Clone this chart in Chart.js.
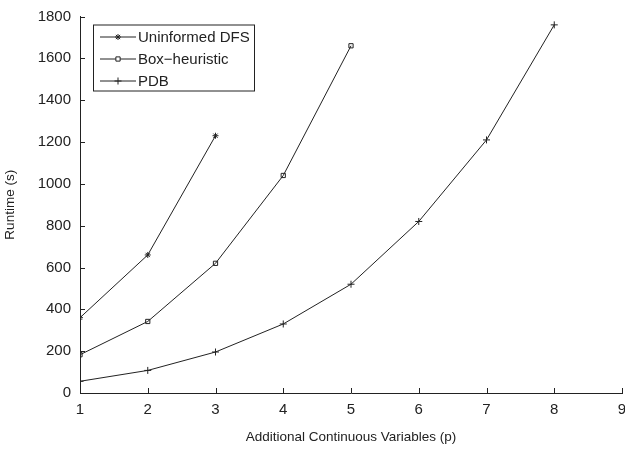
<!DOCTYPE html>
<html>
<head>
<meta charset="utf-8">
<script src="https://cdn.jsdelivr.net/npm/chart.js@4.4.1/dist/chart.umd.min.js"></script>
<style>
  html, body { margin: 0; padding: 0; background: #fff; overflow: hidden; }
  #wrap { width: 625px; height: 449px; overflow: hidden; }
</style>
</head>
<body>
<div id="wrap"><canvas id="chart" width="635" height="449"></canvas></div>
<script>
// values
const xValues = [1, 2, 3, 4, 5, 6, 7, 8];
const dfsRuntime = [360, 660, 1230];
const boxRuntime = [183, 342, 620, 1040, 1660];
const pdbRuntime = [56, 108, 196, 330, 520, 820, 1210, 1760];
const seriesNames = ["Uninformed DFS", "Box\u2212heuristic", "PDB"];

const FONT = "'Liberation Sans', Arial, Helvetica, sans-serif";
const ink = "#222";

function toPoints(vals) {
  return vals.map((v, i) => ({ x: xValues[i], y: v }));
}

// small ticks pointing into the plot, like the original
const innerTicks = {
  id: "innerTicks",
  afterDraw(chart) {
    const ctx = chart.ctx;
    const xs = chart.scales.x, ys = chart.scales.y;
    const a = chart.chartArea;
    ctx.save();
    ctx.strokeStyle = ink;
    ctx.lineWidth = 1;
    ctx.beginPath();
    xs.ticks.forEach(t => {
      const px = Math.round(xs.getPixelForValue(t.value)) + 0.5;
      ctx.moveTo(px, a.bottom);
      ctx.lineTo(px, a.bottom - 5);
    });
    ys.ticks.forEach(t => {
      const py = Math.round(ys.getPixelForValue(t.value)) + 0.5;
      ctx.moveTo(a.left, py);
      ctx.lineTo(a.left + 5, py);
    });
    ctx.stroke();
    ctx.restore();
  }
};

// boxed legend inside the top-left of the plot
const boxLegend = {
  id: "boxLegend",
  afterDraw(chart) {
    const ctx = chart.ctx;
    const a = chart.chartArea;
    const left = a.left + 13, top = a.top + 8;
    const w = 161, h = 66;
    ctx.save();
    ctx.fillStyle = "#fff";
    ctx.fillRect(left, top, w, h);
    ctx.strokeStyle = ink;
    ctx.lineWidth = 1;
    ctx.strokeRect(left + 0.5, top + 0.5, w, h);
    ctx.font = "15px " + FONT;
    ctx.textBaseline = "middle";
    chart.data.datasets.forEach((ds, i) => {
      const y = top + 12 + i * 22;
      ctx.strokeStyle = ink;
      ctx.beginPath();
      ctx.moveTo(left + 7, y + 0.5);
      ctx.lineTo(left + 43, y + 0.5);
      ctx.stroke();
      ctx.fillStyle = "#fff";
      Chart.helpers.drawPoint(ctx, {
        pointStyle: ds.pointStyle,
        radius: ds.pointRadius,
        borderWidth: 1
      }, left + 25, y + 0.5);
      ctx.fillStyle = ink;
      ctx.fillText(ds.label, left + 45, y + 1);
    });
    ctx.restore();
  }
};

function series(label, vals, style, radius) {
  return {
    label: label,
    data: toPoints(vals),
    borderColor: ink,
    backgroundColor: "rgba(0,0,0,0)",
    borderWidth: 1,
    pointStyle: style,
    pointRadius: radius,
    pointBorderColor: ink,
    pointBackgroundColor: "rgba(255,255,255,0)",
    pointBorderWidth: 1,
    tension: 0
  };
}

new Chart(document.getElementById("chart"), {
  type: "line",
  data: {
    datasets: [
      series(seriesNames[0], dfsRuntime, "star", 3),
      series(seriesNames[1], boxRuntime, "rect", 3),
      series(seriesNames[2], pdbRuntime, "cross", 3.5)
    ]
  },
  options: {
    responsive: false,
    animation: false,
    layout: { padding: { top: 13, right: 13, left: 0, bottom: 0 } },
    plugins: { legend: { display: false }, tooltip: { enabled: false } },
    scales: {
      x: {
        type: "linear",
        min: 1, max: 9,
        afterFit(s) { s.height = 56; },
        ticks: {
          stepSize: 1, color: ink, padding: 8,
          font: { family: FONT, size: 15 },
          callback: v => String(v)
        },
        grid: { display: false, drawTicks: false },
        border: { display: true, color: ink, width: 1 },
        title: {
          display: true,
          text: "Additional Continuous Variables (p)",
          color: ink,
          font: { family: FONT, size: 13.5 },
          padding: { top: 7 }
        }
      },
      y: {
        min: 0, max: 1800,
        afterFit(s) { s.width = 80; },
        ticks: {
          stepSize: 200, color: ink, padding: 9,
          font: { family: FONT, size: 15, lineHeight: 1 },
          callback: v => String(v)
        },
        grid: { display: false, drawTicks: false },
        border: { display: true, color: ink, width: 1 },
        title: {
          display: true,
          text: "Runtime (s)",
          color: ink,
          font: { family: FONT, size: 13.5 },
          padding: { top: 2, bottom: 4 }
        }
      }
    }
  },
  plugins: [innerTicks, boxLegend]
});
</script>
</body>
</html>
